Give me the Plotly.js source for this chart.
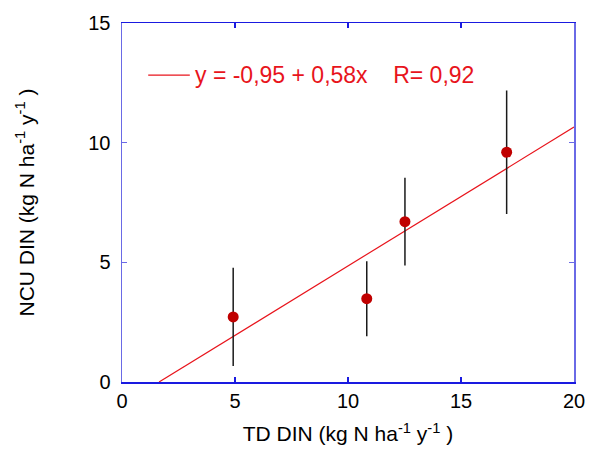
<!DOCTYPE html>
<html>
<head>
<meta charset="utf-8">
<script src="https://cdn.plot.ly/plotly-3.0.1.min.js"></script>
<style>html,body{margin:0;padding:0;background:#fff;}#chart{width:589px;height:450px;}</style>
</head>
<body>
<div id="chart"></div>
<script>
// Data
const tdDin = [4.92, 10.83, 12.52, 17.02];
const ncuDin = [2.72, 3.48, 6.70, 9.60];
const ncuErr = [2.05, 1.57, 1.83, 2.58];
// Regression line y = -0.95 + 0.58x, drawn between its visible ends
const fitX = [1.64, 20];
const fitY = [0, 10.65];
const fitLabel = 'y = -0,95 + 0,58x   R= 0,92';

const font = 'Liberation Sans, Arial, sans-serif';
const red = '#e8141c';

const traces = [
  {
    x: fitX, y: fitY, mode: 'lines', type: 'scatter',
    line: {color: red, width: 1.2},
    showlegend: false, hoverinfo: 'skip'
  },
  {
    x: tdDin, y: ncuDin, mode: 'markers', type: 'scatter',
    marker: {color: '#c00000', size: 11},
    error_y: {type: 'data', array: ncuErr, visible: true, color: '#1a1a1a', thickness: 1.5, width: 0},
    showlegend: false
  }
];

const axisCommon = {
  showgrid: false, zeroline: false, mirror: 'ticks', ticks: 'inside', ticklen: 5, tickwidth: 1.5,
  showline: true, linewidth: 1.5,
  tickfont: {family: font, size: 20, color: '#000'}
};

// legend glyph position in paper coordinates
const legY = 0.855;
const layout = {
  width: 589, height: 450,
  margin: {l: 122, r: 15, t: 23, b: 68},
  paper_bgcolor: '#fff', plot_bgcolor: '#fff',
  font: {family: font, color: '#000'},
  showlegend: false,
  shapes: [{type: 'line', xref: 'paper', yref: 'paper', x0: 0.058, x1: 0.150, y0: legY, y1: legY,
            line: {color: red, width: 1.2}}],
  annotations: [{xref: 'paper', yref: 'paper', x: 0.158, y: legY, xanchor: 'left', yanchor: 'middle',
                 showarrow: false, text: fitLabel.replace(/ {2,}/g, m => '\u00a0'.repeat(m.length + 1)),
                 font: {family: font, size: 23, color: red}}],
  xaxis: Object.assign({}, axisCommon, {
    range: [0, 20], tickvals: [0, 5, 10, 15, 20],
    linecolor: '#1a1ae0', tickcolor: '#1a1ae0',
    title: {text: 'TD DIN (kg N ha<sup>-1</sup> y<sup>-1</sup> )', font: {family: font, size: 21}, standoff: 16}
  }),
  yaxis: Object.assign({}, axisCommon, {
    range: [0, 15], tickvals: [0, 5, 10, 15],
    linecolor: '#6a6ae6', tickcolor: '#6a6ae6',
    ticklabelstandoff: 6,
    title: {text: 'NCU DIN (kg N ha<sup>-1</sup> y<sup>-1</sup> )', font: {family: font, size: 21}, standoff: 48}
  })
};

Plotly.newPlot('chart', traces, layout, {displayModeBar: false, staticPlot: true});
</script>
</body>
</html>
